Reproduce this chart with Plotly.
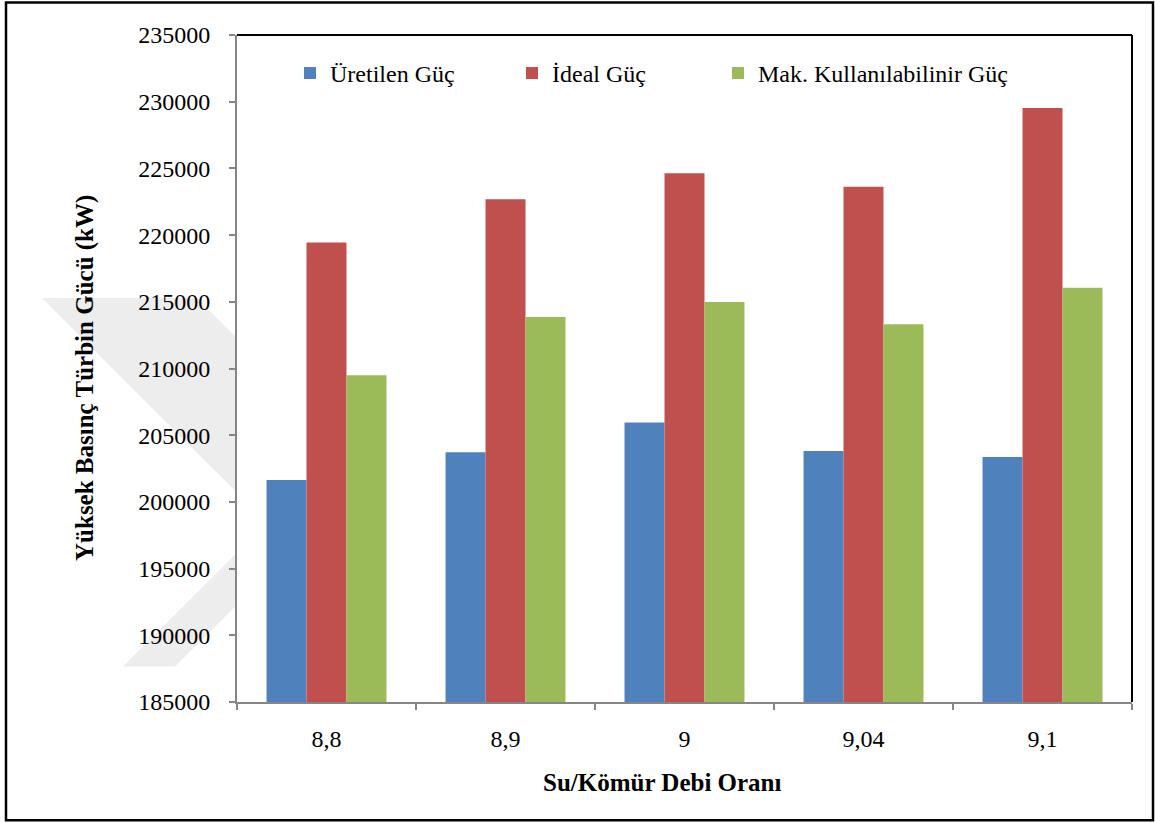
import plotly.graph_objects as go

categories = ["8,8", "8,9", "9", "9,04", "9,1"]
uretilen = [201640, 203730, 205960, 203810, 203360]
ideal = [219450, 222690, 224640, 223620, 229530]
mak = [209500, 213860, 214980, 213310, 216060]
series_names = ["Üretilen Güç", "İdeal Güç", "Mak. Kullanılabilinir Güç"]
colors = ["#4F81BD", "#C0504D", "#9BBB59"]
y_title = "Yüksek Basınç Türbin Gücü (kW)"
x_title = "Su/Kömür Debi Oranı"

W, H = 1155, 823
L, R, T, B = 237, 1132, 34.5, 702.5

def px(x):
    return (x - L) / (R - L)

def py(y):
    return (B - y) / (B - T)

FONT = "Times New Roman"

fig = go.Figure()
legends = ["legend", "legend2", "legend3"]
for vals, name, col, lg in zip([uretilen, ideal, mak], series_names, colors, legends):
    fig.add_trace(go.Bar(x=categories, y=vals, name=name, marker=dict(color=col, line=dict(width=0)),
                         legend=lg))

leg_x = [290, 512, 718]
common_leg = dict(orientation="h", yanchor="middle", xanchor="left", y=py(73),
                  bgcolor="rgba(0,0,0,0)", font=dict(family=FONT, size=24, color="black"),
                  itemwidth=30, tracegroupgap=0)
fig.update_layout(
    legend=dict(x=px(leg_x[0]), **common_leg),
    legend2=dict(x=px(leg_x[1]), **common_leg),
    legend3=dict(x=px(leg_x[2]), **common_leg),
)

fig.update_layout(
    width=W, height=H,
    margin=dict(l=L, r=W - R, t=T, b=H - B, pad=0),
    paper_bgcolor="white", plot_bgcolor="white",
    barmode="group", bargap=0.33, bargroupgap=0,
    font=dict(family=FONT, size=24, color="black"),
    showlegend=True,
)
fig.update_xaxes(type="category", showgrid=False, showline=True, linecolor="#868686", linewidth=2,
                 ticks="outside", tickson="boundaries", ticklen=6, tickcolor="#868686", tickwidth=1.5,
                 tickfont=dict(family=FONT, size=24, color="black"), ticklabelstandoff=14)
fig.update_yaxes(range=[185000, 235000], dtick=5000, tickformat="d", showgrid=False, zeroline=False,
                 showline=True, linecolor="#868686", linewidth=2,
                 ticks="outside", ticklen=6, tickcolor="#868686", tickwidth=1.5,
                 tickfont=dict(family=FONT, size=24, color="black"), ticklabelstandoff=14)

# watermark chevron (visible part only, left of the plot area)
arm1 = [(42, 298), (197, 298), (237, 338), (237, 493)]
arm2 = [(237, 553), (237, 605), (175, 667), (123, 667)]

def poly(pts):
    return "M " + " L ".join(f"{px(a):.5f},{py(b):.5f}" for a, b in pts) + " Z"

shapes = [
    dict(type="path", xref="paper", yref="paper", path=poly(arm1) + " " + poly(arm2),
         fillcolor="#EDEDED", line=dict(width=0), layer="below"),
    dict(type="line", xref="paper", yref="paper", x0=0, x1=1, y0=1, y1=1,
         line=dict(color="black", width=2)),
    dict(type="line", xref="paper", yref="paper", x0=1, x1=1, y0=0, y1=1,
         line=dict(color="black", width=2)),
    dict(type="rect", xref="paper", yref="paper", x0=px(6), x1=px(1153), y0=py(2), y1=py(821),
         line=dict(color="black", width=2.5), fillcolor="rgba(0,0,0,0)"),
]
fig.update_layout(shapes=shapes)

fig.add_annotation(text=f"<b>{x_title}</b>", xref="paper", yref="paper", x=px(662), y=py(783),
                   xanchor="center", yanchor="middle", showarrow=False,
                   font=dict(family=FONT, size=25, color="black"))
fig.add_annotation(text=f"<b>{y_title}</b>", xref="paper", yref="paper", x=px(85), y=py(378),
                   xanchor="center", yanchor="middle", showarrow=False, textangle=-90,
                   font=dict(family=FONT, size=25, color="black"))

fig.write_html("out.html")
